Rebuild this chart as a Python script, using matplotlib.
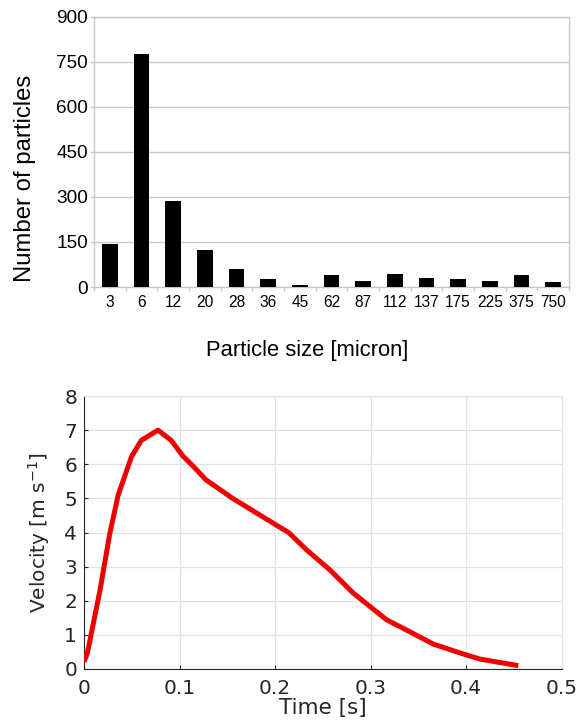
import matplotlib
matplotlib.use("Agg")
import matplotlib.pyplot as plt
import numpy as np

# Particle size distribution
sizes = ["3", "6", "12", "20", "28", "36", "45", "62", "87", "112", "137", "175", "225", "375", "750"]
counts = [143, 775, 285, 122, 61, 27, 8, 39, 21, 43, 31, 27, 21, 39, 17]

# Velocity time history
time_s = [0.0, 0.0035, 0.0167, 0.027, 0.0358, 0.0497, 0.060, 0.0774, 0.0913, 0.1035,
          0.114, 0.1278, 0.1556, 0.190, 0.2146, 0.233, 0.2575, 0.282, 0.2994, 0.3168,
          0.3378, 0.3656, 0.397, 0.4145, 0.4546]
velocity = [0.21, 0.46, 2.3, 3.97, 5.1, 6.22, 6.7, 7.0, 6.7, 6.24,
            5.95, 5.54, 5.0, 4.41, 3.99, 3.49, 2.9, 2.22, 1.83, 1.44,
            1.14, 0.73, 0.44, 0.29, 0.1]

fig = plt.figure(figsize=(5.79, 7.2), dpi=100)

# ---- Histogram of particle sizes ----
ax1 = fig.add_axes([94 / 579, 1 - 287 / 720, (569 - 94) / 579, (287 - 16.5) / 720])
x = np.arange(len(sizes))
ax1.bar(x, counts, width=0.5, color="black", zorder=3)
ax1.set_xlim(-0.5, len(sizes) - 0.5)
ax1.set_ylim(0, 900)
ax1.set_yticks(np.arange(0, 901, 150))
ax1.yaxis.grid(True, color="#c8c8c8", linewidth=1.0, zorder=0)
for s in ax1.spines.values():
    s.set_color("#c8c8c8")
    s.set_linewidth(1.0)
ax1.set_xticks(x)
ax1.set_xticklabels(sizes, family="Liberation Sans", fontsize=11.2)
ax1.set_xticks(np.arange(-0.5, len(sizes)), minor=True)
ax1.tick_params(axis="x", which="major", length=0, pad=6)
ax1.tick_params(axis="x", which="minor", length=3, color="#c8c8c8", width=1)
ax1.tick_params(axis="y", length=3, color="#c8c8c8", width=1, pad=1.5)
for lbl in ax1.get_yticklabels():
    lbl.set_family("Liberation Sans")
    lbl.set_fontsize(13.7)
fig.text(25 / 579, 1 - 178 / 720, "Number of particles", rotation=90,
         ha="center", va="center", family="Liberation Sans", fontsize=17.2)
fig.text(307.5 / 579, 1 - 350 / 720, "Particle size [micron]",
         ha="center", va="center", family="Liberation Sans", fontsize=15.8)

# ---- Velocity curve ----
ax2 = fig.add_axes([84 / 579, 1 - 669 / 720, (561.7 - 84) / 579, (669 - 396) / 720])
ax2.plot(time_s, velocity, color="#ee0000", linewidth=3.6, solid_capstyle="butt", zorder=3)
ax2.set_xlim(0, 0.5)
ax2.set_ylim(0, 8)
ax2.set_xticks(np.arange(0, 0.51, 0.1))
ax2.set_xticklabels(["0", "0.1", "0.2", "0.3", "0.4", "0.5"])
ax2.set_yticks(np.arange(0, 9, 1))
ax2.grid(True, color="#e3e3e3", linewidth=0.9, zorder=0)
ax2.spines["left"].set_color("#262626")
ax2.spines["bottom"].set_color("#262626")
ax2.spines["top"].set_color("#e3e3e3")
ax2.spines["right"].set_color("#e3e3e3")
ax2.tick_params(direction="in", length=3, color="#262626", labelsize=14.5,
                labelcolor="#262626")
ax2.tick_params(axis="x", pad=7)
ax2.tick_params(axis="y", pad=5)
ax2.set_xlabel("Time [s]", fontsize=15.5, color="#262626", labelpad=0)
ax2.set_ylabel("Velocity [m s$^{-1}$]", fontsize=14.5, color="#262626", labelpad=9)

fig.savefig("out.png", dpi=100, facecolor="white")
